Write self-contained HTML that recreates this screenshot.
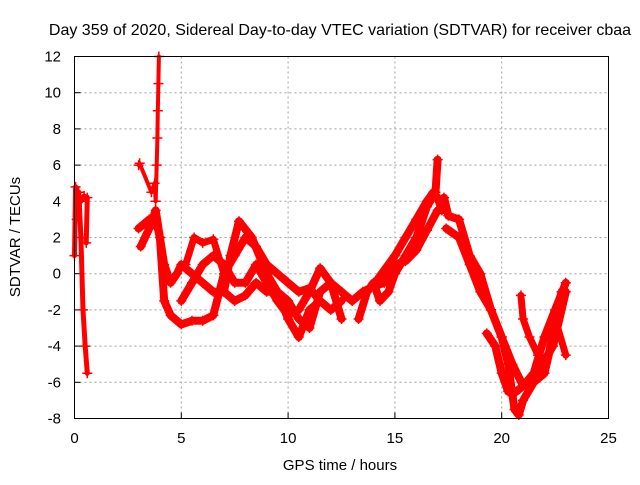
<!DOCTYPE html>
<html><head><meta charset="utf-8"><style>
html,body{margin:0;padding:0;background:#fff;}
svg text{font-family:"Liberation Sans",sans-serif;font-size:14px;fill:#000;}
</style></head><body>
<svg id="chart" width="640" height="480" viewBox="0 0 640 480" xmlns="http://www.w3.org/2000/svg">
<rect width="640" height="480" fill="#fff"/>
<text x="340" y="35" text-anchor="middle" style="font-size:16px">Day 359 of 2020, Sidereal Day-to-day VTEC variation (SDTVAR) for receiver cbaa</text>
<g id="grid"></g>
<g id="ticks"></g>
<g id="series"></g>
<rect x="74.5" y="56.5" width="534" height="362" fill="none" stroke="#000" stroke-width="1"/>
<text x="340" y="470" text-anchor="middle" style="font-size:15px">GPS time / hours</text>
<text transform="translate(20,237) rotate(-90)" text-anchor="middle" style="font-size:15px">SDTVAR / TECUs</text>
</svg>
<script>
const xTicks=[0,5,10,15,20,25];
const yTicks=[-8,-6,-4,-2,0,2,4,6,8,10,12];
const trackA_t=[0,0.05,0.1,0.2,0.3,0.4,0.5,0.6];
const trackA_v=[1,4.8,3,4.5,2,-2,-4,-5.5];
const trackB_t=[0.3,0.45,0.6,0.55];
const trackB_v=[4,4.3,4.2,1.7];
const spike_t=[3.0,3.05,3.6,3.75,3.8,3.85,3.88,3.9,3.93,3.95];
const spike_v=[6,6.1,4.5,5,4,6,7.5,9,10.5,12];
const l1_t=[3.0,3.5,3.8,4.0,4.2,4.5,5,5.5,6,6.5,7,7.5,8,8.5,9,9.5,10,10.5,11,11.5,12,12.5];
const l1_v=[2.5,3,3,2,-1.5,-2.3,-2.8,-2.6,-2.6,-2.3,0,1,2,1.5,0.5,0,-0.5,-1,-0.8,-1.5,-2,-1.5];
const l2_t=[3.1,3.5,3.8,4.0,4.2,4.5,4.8,5,5.5,6,6.5,7,7.5,8,8.5,9,9.5,10,10.5,11,11.5,12,12.5,13];
const l2_v=[1.5,2.5,3.5,2,0.5,-0.5,0,0.5,0,-0.5,-1,-1,-1.5,-1.2,-0.5,-1,-1,-1.5,-2.5,-3,-1,-0.5,-1,-1.5];
const l3_t=[5,5.5,6,6.5,7,7.5,8,8.5,9,9.5,10,10.5,11,11.5,12,12.5];
const l3_v=[-1.5,-0.5,0.5,1,0.5,-0.5,-0.5,0.5,-0.5,-1.5,-2.3,-2,-1,0.3,-0.5,-2.5];
const l4_t=[7,7.3,7.7,8.3,9,9.5,10,10.5,11,11.5];
const l4_v=[-1,1,2.9,2,0,-1,-2.5,-3.5,-2,-1.5];
const l5_t=[5.2,5.6,6,6.5,7];
const l5_v=[0.5,2,1.7,1.9,0];
const r1_t=[13.3,13.7,14,14.3,14.7,15,15.5,16,16.5,16.9,17];
const r1_v=[-2.5,-1,-0.5,-1.5,-1,0,1,2,3.7,4.5,6.3];
const r2_t=[13,13.5,14,14.5,15,15.5,16,16.5,17];
const r2_v=[-1.5,-1,-0.7,-0.5,0.5,0.7,1.3,2.4,3.5];
const r3_t=[14.2,15,15.5,16,16.5,16.8,17,17.2];
const r3_v=[-0.3,1,2,3,4,4.5,4.2,3.5];
const d1_t=[17.3,17.5,18,18.5,19,19.5,20,20.3,20.6,20.8,21,21.5,22,22.5,22.8];
const d1_v=[4.2,3.2,3,1,0,-2,-3.5,-5,-7.5,-7.8,-7,-6,-5.5,-3,-1];
const d2_t=[17.4,18,18.5,19,19.5,20,20.5,21,21.5,22,22.5,23];
const d2_v=[2.5,2,0.5,-1,-2,-3.5,-5,-6.2,-5.5,-3.5,-2,-0.5];
const d3_t=[19.3,19.7,20,20.3,20.7,21.2,21.5,22,22.4,23];
const d3_v=[-3.3,-4,-5.5,-6.5,-6.5,-6,-5.7,-4.8,-4,-1];
const d4_t=[20.9,21,21.3,21.7,22,22.5,23];
const d4_v=[-1.2,-2.5,-3.5,-4.5,-5.5,-2.5,-4.5];
const NS='http://www.w3.org/2000/svg';
const X0=74.5,X1=608.5,Y0=418.5,Y1=56.5;
function xs(t){return X0+(t-0)/(25-0)*(X1-X0);}
function ys(v){return Y0-(v+8)/(20)*(Y0-Y1);}
const grid=document.getElementById('grid'),ticks=document.getElementById('ticks'),ser=document.getElementById('series');
function mk(tag,attrs,parent){const e=document.createElementNS(NS,tag);for(const k in attrs)e.setAttribute(k,attrs[k]);parent.appendChild(e);return e;}
xTicks.forEach(t=>{
 const x=xs(t);
 if(t>0&&t<25){const g=mk('line',{x1:x,x2:x,y1:Y1,y2:Y0,stroke:'#a0a0a0','stroke-dasharray':'2,3'},grid);
 
 }
 const tk=mk('line',{x1:x,x2:x,y1:Y0,y2:Y0-6,stroke:'#000'},ticks);
 
 
 const lb=mk('text',{x:x,y:443,'text-anchor':'middle',style:'font-size:15px'},ticks);lb.textContent=t;
 
 
});
yTicks.forEach(v=>{
 const y=ys(v);
 if(v>-8&&v<12){const g=mk('line',{x1:X0,x2:X1,y1:y,y2:y,stroke:'#a0a0a0','stroke-dasharray':'2,3'},grid);
 
 }
 const tk=mk('line',{x1:X0,x2:X0+6,y1:y,y2:y,stroke:'#000'},ticks);
 
 
 const lb=mk('text',{x:61,y:y+5,'text-anchor':'end',style:'font-size:15px'},ticks);lb.textContent=v;
 
 
});
const tracks=[['track-a',trackA_t,trackA_v,5],['track-b',trackB_t,trackB_v,5],['spike',spike_t,spike_v,4],
['loop-1',l1_t,l1_v,8],['loop-2',l2_t,l2_v,8],['loop-3',l3_t,l3_v,8],['loop-4',l4_t,l4_v,8],['loop-5',l5_t,l5_v,7],
['rise-1',r1_t,r1_v,8],['rise-2',r2_t,r2_v,8],['rise-3',r3_t,r3_v,8],
['fall-1',d1_t,d1_v,8],['fall-2',d2_t,d2_v,8],['fall-3',d3_t,d3_v,8],['fall-4',d4_t,d4_v,7]];
tracks.forEach(([name,T,V,w])=>{
 const pts=T.map((t,i)=>xs(t).toFixed(1)+','+ys(V[i]).toFixed(1)).join(' ');
 const pl=mk('polyline',{points:pts,fill:'none',stroke:'#ff0000','stroke-width':w,'stroke-linejoin':'round','stroke-linecap':'round'},ser);
 
 
 T.forEach((t,i)=>{
  const x=xs(t),y=ys(V[i]);
  const p=mk('path',{d:`M${x-5},${y}h10M${x},${y-5}v10`,stroke:'#ff0000','stroke-width':1.5},ser);
  
  
 });
});
</script>
</body></html>
